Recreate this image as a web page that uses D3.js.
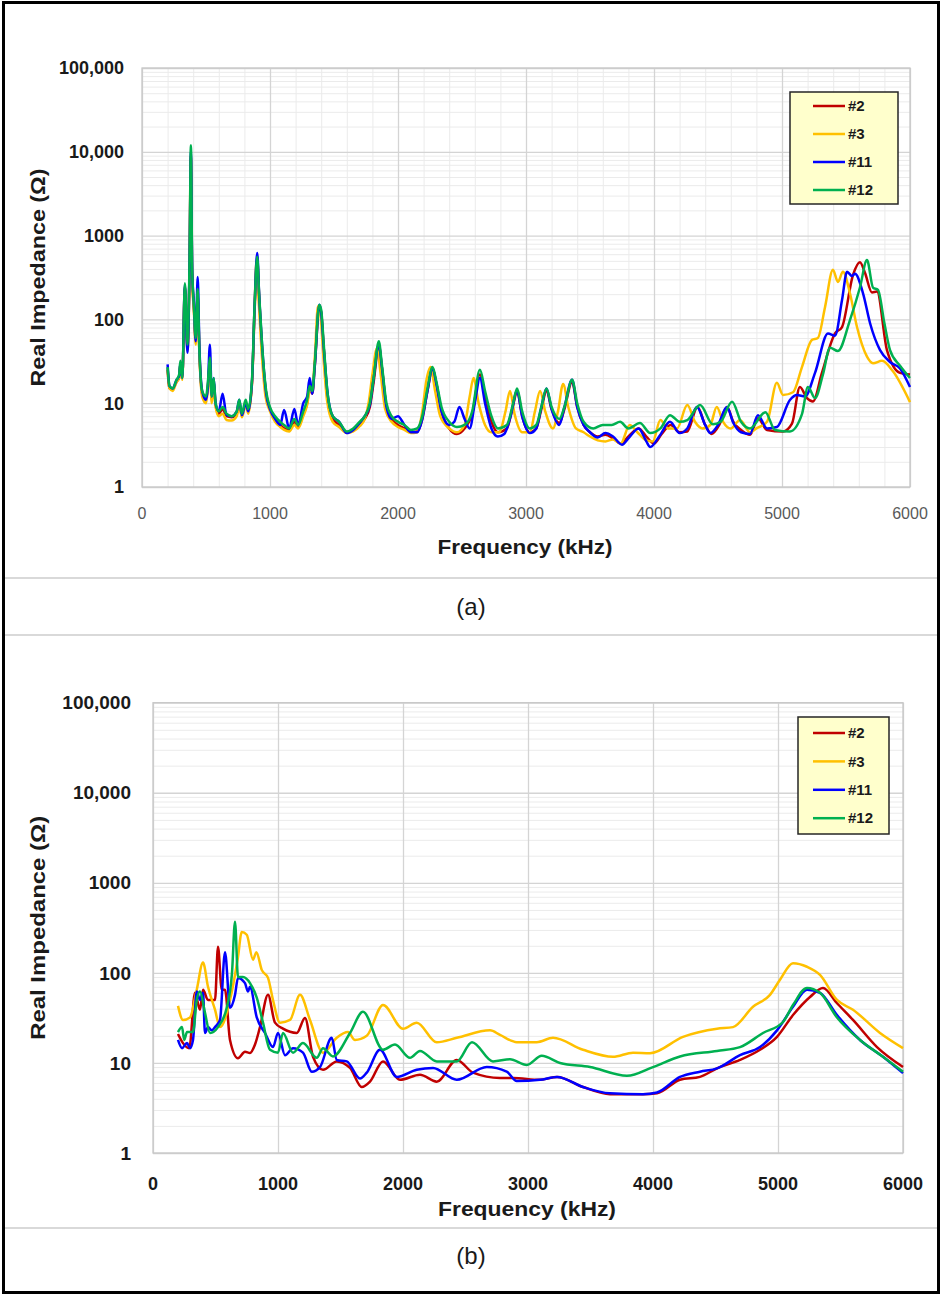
<!DOCTYPE html>
<html>
<head>
<meta charset="utf-8">
<script src="https://cdn.jsdelivr.net/npm/d3@7/dist/d3.min.js"></script>
<style>
  body { margin: 0; background: #fff; }
  svg { display: block; font-family: "Liberation Sans", Arial, sans-serif; }
</style>
</head>
<body>
<svg id="canvas" width="943" height="1297"></svg>
<script>
// series + ticks
const seriesNames = ["#2", "#3", "#11", "#12"]
const seriesColors = ["#c00000", "#ffc000", "#0000ff", "#00b050"]
const freqTicks = [0, 1000, 2000, 3000, 4000, 5000, 6000]
const ohmTicks = [1, 10, 100, 1000, 10000, 100000]
const ohmLabels = ["1", "10", "100", "1000", "10,000", "100,000"]

// (a) real impedance, [kHz, ohm]
const aRed = [[200,25],[215,15],[240,15],[270,18],[290,20],[300,30],[315,20],[335,250],[355,45],[372,500],[382,9000],[392,350],[405,140],[420,55],[435,200],[448,42],[470,13],[500,11],[515,16],[530,30],[545,11],[560,18],[575,9.5],[600,7.5],[630,8.5],[660,7],[700,6.8],[740,7.5],[760,10],[780,7],[810,10],[830,8],[860,18],[880,130],[900,520],[915,190],[940,40],[970,13],[1000,8.5],[1040,6.5],[1080,5.5],[1110,5],[1150,4.8],[1190,6],[1220,5.2],[1260,7.5],[1290,10],[1310,15],[1330,13],[1350,28],[1385,140],[1400,120],[1420,45],[1450,12],[1490,6.5],[1540,5.5],[1600,4.5],[1650,4.8],[1700,5.5],[1740,6.5],[1780,9],[1810,18],[1850,48],[1875,26],[1910,9],[1950,6.5],[2000,5.5],[2050,5],[2100,4.5],[2150,4.6],[2190,6.5],[2230,14],[2270,26],[2300,17],[2340,8],[2400,5],[2460,4.3],[2520,5],[2580,7.5],[2640,22],[2680,12],[2730,6],[2780,4.5],[2850,5],[2900,9.5],[2930,14],[2970,7],[3030,4.5],[3080,5],[3120,8.5],[3160,14],[3200,8.5],[3260,5.8],[3300,8.5],[3360,18],[3400,9],[3450,5.5],[3500,4.5],[3560,4],[3620,4.2],[3680,3.8],[3740,3.3],[3800,4],[3880,5],[3940,4],[4000,3.3],[4060,4.3],[4130,5.5],[4200,4.5],[4260,4.6],[4340,9],[4400,5.5],[4450,4.3],[4510,5.5],[4570,9],[4620,6],[4680,4.8],[4750,4.2],[4812,6.6],[4883,4.8],[5008,4.6],[5078,5.7],[5140,15.6],[5195,11.5],[5242,10.5],[5312,23],[5414,68],[5469,81],[5555,340],[5609,480],[5648,360],[5703,210],[5742,215],[5820,43],[5922,23],[6000,22]]
const aYellow = [[200,26],[215,15],[240,14],[270,18],[290,20],[300,28],[315,19],[335,230],[355,42],[372,450],[380,8000],[390,330],[405,130],[420,50],[435,180],[448,40],[470,12],[500,10],[515,15],[530,28],[545,10],[560,16],[575,9],[600,7],[630,7.5],[660,6.3],[700,6.2],[740,7],[760,9.5],[780,6.8],[810,9.5],[830,7.5],[860,18],[880,150],[895,500],[910,180],[935,40],[965,12],[1000,8],[1040,6],[1080,5.2],[1110,4.8],[1150,4.6],[1190,5.5],[1220,5],[1260,7],[1290,9.5],[1310,14],[1330,14],[1350,35],[1375,145],[1395,110],[1415,40],[1445,11],[1490,6],[1540,5.2],[1600,4.4],[1650,4.6],[1700,5.3],[1740,6.5],[1770,10],[1800,22],[1835,45],[1865,22],[1900,8.5],[1950,6],[2000,5.2],[2050,4.8],[2100,4.4],[2150,4.5],[2190,8],[2220,18],[2255,27],[2290,14],[2330,7],[2400,5],[2460,4.5],[2520,5.5],[2560,12],[2590,20],[2630,10],[2680,5.5],[2730,4.5],[2790,4.5],[2840,8],[2875,14],[2910,7.5],[2970,4.5],[3030,4.5],[3070,8],[3110,14],[3150,8],[3210,5],[3250,8],[3290,17],[3330,9],[3390,5],[3450,4.5],[3500,4],[3560,3.6],[3620,3.5],[3680,3.7],[3740,3.3],[3810,5.5],[3870,4.5],[3940,3.6],[3990,3.5],[4050,6.3],[4110,5],[4180,5],[4260,9.5],[4320,6],[4380,5],[4440,5.5],[4490,9],[4540,6],[4600,5],[4672,6.3],[4750,4.5],[4800,5],[4883,6],[4960,17.5],[5008,12.5],[5086,13.5],[5156,27],[5234,57],[5280,60],[5336,140],[5398,390],[5437,280],[5476,370],[5531,205],[5586,81],[5664,36],[5711,30],[5781,32],[5867,24],[6000,10.3]]
const aBlue = [[200,29],[215,16],[240,15],[270,19],[290,21],[300,30],[315,20],[335,260],[355,40],[372,500],[382,10000],[392,380],[405,160],[420,55],[435,320],[448,50],[470,14],[500,11],[515,16],[530,50],[545,12],[560,20],[575,10],[600,8],[630,13],[660,7.2],[700,7],[740,8],[760,11],[780,7.2],[810,10],[830,8],[860,19],[880,150],[900,620],[915,200],[940,45],[970,13],[1000,8.5],[1040,6.5],[1080,5.5],[1110,8.3],[1150,5],[1190,8.5],[1220,5.5],[1260,10],[1290,12],[1310,20],[1330,13],[1350,28],[1385,150],[1400,120],[1420,45],[1450,13],[1490,7],[1540,6],[1600,4.4],[1650,4.8],[1700,5.8],[1740,7],[1780,9.5],[1810,20],[1850,50],[1875,26],[1910,9],[1950,6.5],[2000,7],[2050,5.5],[2100,4.5],[2150,4.5],[2190,6.5],[2230,14],[2270,26],[2300,17],[2340,8],[2400,5.5],[2440,6],[2480,9],[2520,6.5],[2560,5],[2600,10],[2640,20],[2680,10],[2730,5],[2780,4],[2830,4.3],[2880,7],[2930,14],[2970,7],[3030,4.4],[3080,5],[3120,9],[3160,15],[3200,8.5],[3260,5.5],[3300,9],[3360,19],[3400,9],[3450,5.5],[3500,4.5],[3560,3.9],[3620,4.4],[3680,4],[3750,3.2],[3800,3.8],[3880,5],[3940,3.5],[3970,3],[4040,4],[4125,6],[4200,4.4],[4260,5],[4335,9],[4400,5.5],[4440,4.4],[4500,5.5],[4570,9],[4620,5.8],[4680,4.5],[4750,4.3],[4812,7.2],[4883,5],[4960,5.2],[5062,10.9],[5117,12.5],[5180,12],[5258,23],[5359,68],[5414,64],[5469,170],[5508,370],[5547,330],[5570,350],[5633,205],[5688,90],[5766,43],[5844,31],[5922,26],[6000,15.6]]
const aGreen = [[200,27],[215,16],[240,15],[270,19],[290,22],[300,32],[315,20],[335,270],[355,50],[372,600],[382,12000],[392,400],[405,150],[420,60],[435,230],[448,45],[470,14],[500,12],[515,18],[530,35],[545,12],[560,20],[575,10],[600,8],[630,9],[660,7.5],[700,7],[740,8],[760,11],[780,7.5],[810,11],[830,8.5],[860,20],[880,150],[900,560],[915,200],[940,45],[970,14],[1000,9],[1040,7],[1080,6],[1110,5.5],[1150,5],[1190,6.5],[1220,5.5],[1260,8],[1290,11],[1310,16],[1330,14],[1350,30],[1385,150],[1400,130],[1420,50],[1450,13],[1490,7],[1540,6],[1600,4.6],[1650,5],[1700,6],[1740,7],[1780,10],[1810,20],[1850,55],[1875,28],[1910,10],[1950,7],[2000,6],[2050,5.5],[2100,4.8],[2150,5],[2190,7],[2230,15],[2270,27],[2300,18],[2340,9],[2400,6],[2460,5.2],[2520,5.5],[2580,8],[2640,25],[2680,14],[2730,7],[2780,5],[2850,5.5],[2900,10],[2930,15],[2970,8],[3030,5],[3080,5.5],[3120,9],[3160,15],[3200,9],[3260,6.5],[3300,9],[3360,19],[3400,10],[3450,6],[3525,5],[3600,5.5],[3670,5.5],[3735,6],[3800,5],[3890,5.8],[3970,4.4],[4050,5],[4125,7.2],[4200,6],[4260,6.3],[4360,9.5],[4460,5.6],[4520,6],[4610,10.4],[4680,6],[4750,5],[4870,7.8],[4945,4.8],[5062,4.6],[5156,7.4],[5203,15.6],[5258,11.5],[5320,22],[5375,46],[5437,42],[5531,98],[5609,240],[5664,510],[5711,240],[5750,225],[5800,90],[5844,43],[5922,28],[6000,20]]

// (b) real impedance, [kHz, ohm]
const bRed = [[200,21],[240,16.6],[290,14.6],[336,60],[376,39],[400,65],[440,50],[496,50],[520,195],[550,65],[576,65],[616,18],[680,11.3],[736,13.3],[776,12.9],[816,16],[856,25],[920,57],[976,28],[1040,24],[1150,21.5],[1216,31.6],[1280,11.7],[1360,8.4],[1470,10.4],[1576,8.8],[1670,5.4],[1736,6.2],[1840,10.4],[1976,6.5],[2136,7.4],[2270,6.2],[2430,10.8],[2560,7.8],[2776,6.8],[2880,6.8],[3096,6.5],[3232,7],[3440,5.4],[3656,4.5],[3920,4.5],[4032,4.6],[4216,6.5],[4376,7],[4512,8.7],[4696,10.8],[4856,14],[4992,19.5],[5120,34],[5256,54],[5360,68],[5472,46],[5600,30],[5792,15],[6000,9]]
const bYellow = [[200,43],[240,30],[296,32],[350,65],[400,130],[440,70],[496,39],[536,25],[616,50],[680,150],[710,285],[750,265],[800,140],[827,170],[870,108],[920,88],[960,50],[1016,28],[1096,30],[1176,57],[1256,30],[1360,13],[1470,19],[1560,22],[1616,18],[1710,20],[1840,44],[2000,24],[2110,28],[2270,17],[2430,19],[2696,23],[2776,20.5],[2910,17],[3070,17],[3200,19],[3440,14],[3680,11.7],[3840,13],[3976,12.8],[4240,19.5],[4512,24],[4640,25],[4800,42],[4936,57],[5016,84],[5120,128],[5232,117],[5336,95],[5472,50],[5600,39],[5816,21.5],[6000,14.6]]
const bBlue = [[200,18],[232,14.6],[272,16.6],[296,14.6],[320,18],[350,62],[376,50],[400,60],[416,21.5],[440,25],[470,23],[496,25],[536,30],[576,170],[616,41],[656,57],[680,88],[736,77],[760,62],[776,70],[830,32],[896,21.5],[960,15],[1000,21.5],[1056,12.2],[1120,14.6],[1200,13],[1270,8],[1336,9],[1430,19],[1470,10.8],[1550,10.4],[1656,6.7],[1710,7.8],[1816,14],[1950,7],[2110,8.4],[2240,8.8],[2430,6.5],[2670,9],[2830,8],[2910,6.3],[3096,6.5],[3232,7],[3440,5.4],[3656,4.6],[3920,4.5],[4032,4.7],[4216,7],[4376,8],[4512,8.7],[4696,12.2],[4856,15],[4992,23],[5120,42],[5232,65],[5336,60],[5472,34],[5656,18],[5840,11.7],[6000,7.7]]
const bGreen = [[200,22],[232,25],[250,18],[272,22],[320,22],[350,50],[376,62],[416,36],[456,21.5],[520,25],[592,42],[632,100],[656,370],[680,90],[720,90],[776,77],[830,53],[880,28],[936,14],[1000,13],[1040,21.5],[1120,13],[1200,16.6],[1310,11.4],[1360,14.6],[1440,11.8],[1576,21.5],[1680,37],[1840,14],[1936,16],[2056,11.4],[2136,13.6],[2270,10.4],[2430,10.4],[2552,17],[2720,10.4],[2856,11],[2990,9.5],[3110,12],[3256,10],[3496,9],[3792,7.2],[4000,9],[4216,11.8],[4512,13.6],[4696,15],[4880,21.5],[5040,28.5],[5120,44],[5232,68],[5336,60],[5472,32],[5656,18],[5840,11.7],[6000,8]]

const svg = d3.select('#canvas')

// frame + separators
svg.append('rect').attr('x', 3.5).attr('y', 2.5).attr('width', 935).attr('height', 1290)
  .attr('fill', '#fff').attr('stroke', '#000').attr('stroke-width', 3)
;[578, 635, 1228].forEach(y => {
  svg.append('line').attr('x1', 5).attr('x2', 937).attr('y1', y).attr('y2', y)
    .attr('stroke', '#d9d9d9').attr('stroke-width', 2)
})

const drawPanel = (cfg, data) => {
  const x = d3.scaleLinear().domain([0, 6000]).range([cfg.left, cfg.right])
  const y = d3.scaleLog().domain([1, 100000]).range([cfg.bottom, cfg.top])
  const w = cfg.right - cfg.left
  const h = cfg.bottom - cfg.top
  const g = svg.append('g')

  // minor grid
  const minorY = []
  for (let d = 1; d < 100000; d *= 10) for (let k = 2; k < 10; k++) minorY.push(d * k)
  g.append('g').attr('transform', `translate(${cfg.left},0)`)
    .call(d3.axisLeft(y).tickValues(minorY).tickSize(-w).tickFormat(''))
    .call(s => s.select('.domain').remove())
    .call(s => s.selectAll('line').attr('stroke', '#ebebeb'))
  if (cfg.xMinor) {
    g.append('g').attr('transform', `translate(0,${cfg.bottom})`)
      .call(d3.axisBottom(x).tickValues(d3.range(200, 6000, 200).filter(v => v % 1000)).tickSize(-h).tickFormat(''))
      .call(s => s.select('.domain').remove())
      .call(s => s.selectAll('line').attr('stroke', '#ebebeb'))
  }
  // major grid
  g.append('g').attr('transform', `translate(${cfg.left},0)`)
    .call(d3.axisLeft(y).tickValues(ohmTicks).tickSize(-w).tickFormat(''))
    .call(s => s.select('.domain').remove())
    .call(s => s.selectAll('line').attr('stroke', '#d4d4d4').attr('stroke-width', 1.3))
  g.append('g').attr('transform', `translate(0,${cfg.bottom})`)
    .call(d3.axisBottom(x).tickValues(freqTicks).tickSize(-h).tickFormat(''))
    .call(s => s.select('.domain').remove())
    .call(s => s.selectAll('line').attr('stroke', '#d4d4d4').attr('stroke-width', 1.3))
  g.append('rect').attr('x', cfg.left).attr('y', cfg.top).attr('width', w).attr('height', h)
    .attr('fill', 'none').attr('stroke', '#c8c8c8').attr('stroke-width', 1.3)

  // tick labels
  g.selectAll('.ylab').data(ohmTicks).enter().append('text')
    .attr('x', cfg.yLabX).attr('y', d => y(d)).attr('dy', '0.35em')
    .attr('text-anchor', 'end').attr('font-weight', 'bold')
    .attr('font-size', cfg.yLabSize).attr('fill', '#1a1a1a')
    .text((d, i) => ohmLabels[i])
  g.selectAll('.xlab').data(freqTicks).enter().append('text')
    .attr('x', d => x(d)).attr('y', cfg.xLabY).attr('dy', '0.35em')
    .attr('text-anchor', 'middle').attr('font-weight', cfg.xLabWeight)
    .attr('font-size', cfg.xLabSize).attr('fill', cfg.xLabColor)
    .text(d => d)

  // titles
  g.append('text').attr('x', cfg.xTitleX).attr('y', cfg.xTitleY).attr('dy', '0.35em')
    .attr('text-anchor', 'middle').attr('font-weight', 'bold').attr('font-size', 21)
    .attr('textLength', cfg.xTitleLen).attr('lengthAdjust', 'spacingAndGlyphs')
    .attr('fill', '#1a1a1a').text('Frequency (kHz)')
  g.append('text')
    .attr('transform', `translate(38,${(cfg.top + cfg.bottom) / 2}) rotate(-90)`)
    .attr('dy', '0.35em').attr('text-anchor', 'middle').attr('font-weight', 'bold')
    .attr('font-size', 21).attr('textLength', cfg.yTitleLen).attr('lengthAdjust', 'spacingAndGlyphs')
    .attr('fill', '#1a1a1a').text('Real Impedance (Ω)')
  g.append('text').attr('x', 471).attr('y', cfg.capY).attr('dy', '0.35em')
    .attr('text-anchor', 'middle').attr('font-size', 24).attr('fill', '#1a1a1a')
    .text(cfg.caption)

  // lines
  const line = d3.line().x(d => x(d[0])).y(d => y(d[1])).curve(d3.curveMonotoneX)
  const clipId = 'clip' + cfg.caption.replace(/\W/g, '')
  svg.append('clipPath').attr('id', clipId).append('rect')
    .attr('x', cfg.left).attr('y', cfg.top - 2).attr('width', w + 2).attr('height', h + 2)
  data.forEach((s, i) => {
    g.append('path').datum(s).attr('d', line).attr('fill', 'none')
      .attr('clip-path', `url(#${clipId})`)
      .attr('stroke', seriesColors[i]).attr('stroke-width', 2.5)
      .attr('stroke-linejoin', 'round')
  })

  // legend
  const lg = g.append('g')
  lg.append('rect').attr('x', cfg.leg.x).attr('y', cfg.leg.y).attr('width', cfg.leg.w).attr('height', cfg.leg.h)
    .attr('fill', '#ffffcc').attr('stroke', '#262626').attr('stroke-width', 1.5)
  seriesNames.forEach((n, i) => {
    const ry = cfg.leg.y + cfg.leg.first + i * cfg.leg.step
    lg.append('line').attr('x1', 813).attr('x2', 845).attr('y1', ry).attr('y2', ry)
      .attr('stroke', seriesColors[i]).attr('stroke-width', 2.5)
    lg.append('text').attr('x', 848).attr('y', ry).attr('dy', '0.35em')
      .attr('font-weight', 'bold').attr('font-size', 15).attr('fill', '#1a1a1a').text(n)
  })
}

drawPanel({
  left: 142, right: 910, top: 68, bottom: 487, xMinor: true,
  yLabX: 124, yLabSize: 18, xLabY: 513, xLabSize: 16, xLabWeight: 'normal', xLabColor: '#595959',
  xTitleX: 525, xTitleY: 547, xTitleLen: 175, yTitleLen: 218, capY: 607, caption: '(a)',
  leg: { x: 790, y: 92, w: 108, h: 112, first: 14, step: 28 }
}, [aRed, aYellow, aBlue, aGreen])

drawPanel({
  left: 153, right: 903, top: 702.7, bottom: 1153, xMinor: false,
  yLabX: 131, yLabSize: 19, xLabY: 1184, xLabSize: 18, xLabWeight: 'bold', xLabColor: '#1a1a1a',
  xTitleX: 527, xTitleY: 1209, xTitleLen: 178, yTitleLen: 224, capY: 1256, caption: '(b)',
  leg: { x: 798, y: 717, w: 91, h: 117, first: 16, step: 28.4 }
}, [bRed, bYellow, bBlue, bGreen])
</script>
</body>
</html>
